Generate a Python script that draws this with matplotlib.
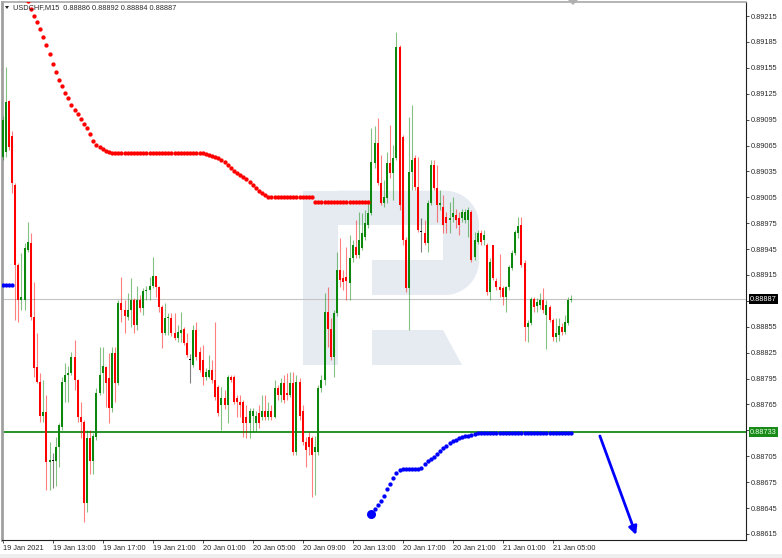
import numpy as np
import matplotlib
matplotlib.use("Agg")
import matplotlib.pyplot as plt
import matplotlib.transforms as mtransforms
from matplotlib.patches import Polygon, Rectangle

# ------------------------ DATA (prices in points, 1 point = 0.00001) ------------------------

open_pts = [
    89052, 89058, 89116, 89076, 89019, 88926, 88886, 88886, 88944, 88952,
    88866, 88808, 88791, 88752, 88756, 88698, 88699, 88699, 88716, 88739,
    88791, 88799, 88801, 88820, 88793, 88750, 88745, 88651, 88726, 88699,
    88727, 88778, 88801, 88808, 88796, 88761, 88825, 88790, 88883, 88874,
    88866, 88874, 88886, 88857, 88886, 88877, 88896, 88898, 88902, 88914,
    88901, 88878, 88848, 88865, 88865, 88848, 88842, 88848, 88852, 88836,
    88816, 88811, 88851, 88826, 88816, 88797, 88797, 88805, 88793, 88785,
    88764, 88772, 88764, 88797, 88797, 88772, 88768, 88768, 88750, 88743,
    88752, 88743, 88755, 88750, 88758, 88750, 88758, 88750, 88784, 88776,
    88790, 88778, 88776, 88790, 88710, 88791, 88758, 88721, 88727, 88726,
    88710, 88710, 88784, 88793, 88872, 88853, 88820, 88871, 88921, 88911,
    88913, 88906, 88935, 88947, 88938, 88946, 88959, 88973, 88987, 89045,
    89068, 89022, 88998, 89004, 89045, 89033, 89050, 89179, 89075, 88955,
    88900, 89034, 89050, 89017, 88965, 88964, 88952, 88998, 89042, 89016,
    88996, 88994, 88982, 88979, 88982, 88984, 88981, 88981, 88979, 88979,
    88988, 88936, 88953, 88964, 88955, 88950, 88895, 88950, 88908, 88901,
    88900, 88889, 88901, 88923, 88940, 88964, 88973, 88929, 88855, 88859,
    88887, 88879, 88880, 88886, 88869, 88878, 88863, 88843, 88845, 88855,
    88849, 88859, 88886,
]
high_pts = [
    89099, 89156, 89118, 89082, 89022, 88929, 88941, 88952, 88976, 88964,
    88907, 88848, 88802, 88793, 88776, 88721, 88709, 88727, 88743, 88797,
    88813, 88810, 88826, 88840, 88795, 88768, 88747, 88735, 88735, 88732,
    88784, 88832, 88832, 88810, 88825, 88832, 88832, 88886, 88913, 88886,
    88894, 88911, 88888, 88902, 88892, 88900, 88902, 88913, 88936, 88914,
    88902, 88880, 88883, 88871, 88871, 88871, 88857, 88872, 88855, 88848,
    88824, 88857, 88861, 88832, 88834, 88807, 88822, 88816, 88861, 88787,
    88785, 88782, 88799, 88799, 88799, 88776, 88776, 88770, 88764, 88761,
    88761, 88758, 88764, 88776, 88776, 88768, 88764, 88793, 88787, 88796,
    88799, 88801, 88803, 88803, 88799, 88796, 88764, 88727, 88733, 88729,
    88729, 88787, 88799, 88894, 88901, 88865, 88874, 88942, 88958, 88921,
    88947, 88961, 88955, 88979, 88988, 88987, 88990, 88998, 89085, 89088,
    89097, 89054, 89025, 89057, 89089, 89066, 89196, 89181, 89077, 88959,
    89098, 89112, 89054, 89052, 88981, 88979, 89002, 89048, 89048, 89042,
    89013, 89008, 88988, 89000, 89005, 88992, 88988, 88992, 88992, 88994,
    88990, 88965, 88967, 88967, 88967, 88952, 88935, 88950, 88911, 88939,
    88902, 88902, 88926, 88944, 88967, 88982, 88982, 88932, 88863, 88889,
    88889, 88888, 88894, 88900, 88886, 88880, 88865, 88865, 88865, 88859,
    88869, 88889, 88892,
]
low_pts = [
    89048, 89052, 89060, 89010, 88863, 88861, 88874, 88874, 88942, 88863,
    88797, 88790, 88745, 88745, 88666, 88666, 88668, 88671, 88692, 88735,
    88768, 88768, 88799, 88782, 88745, 88726, 88629, 88640, 88684, 88684,
    88724, 88776, 88778, 88762, 88743, 88756, 88768, 88787, 88860, 88848,
    88863, 88855, 88848, 88851, 88872, 88869, 88886, 88886, 88900, 88889,
    88872, 88831, 88845, 88845, 88844, 88840, 88837, 88837, 88834, 88820,
    88790, 88808, 88816, 88803, 88787, 88793, 88796, 88790, 88770, 88752,
    88735, 88760, 88743, 88791, 88766, 88750, 88750, 88727, 88726, 88726,
    88733, 88733, 88738, 88747, 88747, 88747, 88747, 88749, 88770, 88768,
    88767, 88770, 88774, 88706, 88706, 88747, 88718, 88692, 88706, 88658,
    88660, 88706, 88779, 88787, 88832, 88816, 88797, 88867, 88901, 88898,
    88886, 88886, 88930, 88935, 88935, 88944, 88955, 88970, 88984, 89039,
    89019, 88996, 88994, 88998, 89027, 89002, 89048, 88990, 88950, 88895,
    88851, 89013, 89013, 88965, 88942, 88950, 88942, 88996, 89013, 88976,
    88990, 88964, 88964, 88964, 88976, 88969, 88961, 88976, 88975, 88959,
    88930, 88932, 88951, 88950, 88950, 88892, 88886, 88909, 88898, 88889,
    88880, 88872, 88898, 88921, 88938, 88958, 88924, 88839, 88837, 88857,
    88872, 88872, 88876, 88871, 88829, 88861, 88838, 88837, 88838, 88845,
    88847, 88857, 88884,
]
close_pts = [
    89094, 89115, 89063, 89022, 88926, 88886, 88889, 88946, 88953, 88866,
    88807, 88791, 88752, 88756, 88698, 88701, 88699, 88716, 88741, 88791,
    88799, 88801, 88820, 88793, 88750, 88745, 88651, 88726, 88699, 88729,
    88778, 88799, 88810, 88790, 88761, 88825, 88790, 88883, 88874, 88867,
    88874, 88886, 88857, 88886, 88877, 88896, 88898, 88902, 88914, 88901,
    88878, 88848, 88865, 88866, 88848, 88842, 88849, 88851, 88836, 88822,
    88816, 88851, 88820, 88805, 88797, 88803, 88805, 88793, 88774, 88755,
    88772, 88764, 88797, 88793, 88768, 88768, 88764, 88743, 88743, 88758,
    88758, 88752, 88743, 88758, 88750, 88758, 88750, 88784, 88776, 88790,
    88770, 88776, 88790, 88710, 88791, 88752, 88721, 88712, 88716, 88706,
    88716, 88784, 88793, 88872, 88853, 88820, 88871, 88921, 88909, 88907,
    88908, 88935, 88950, 88938, 88955, 88964, 88975, 88987, 89046, 89068,
    89022, 88998, 89005, 89045, 89033, 89050, 89179, 88996, 88955, 88900,
    89034, 89048, 89017, 88967, 88965, 88952, 88998, 89042, 89016, 88996,
    88998, 88973, 88975, 88981, 88987, 88979, 88973, 88988, 88988, 88990,
    88932, 88955, 88964, 88953, 88961, 88895, 88930, 88911, 88901, 88898,
    88889, 88901, 88924, 88940, 88965, 88972, 88926, 88855, 88859, 88887,
    88878, 88884, 88886, 88874, 88880, 88863, 88843, 88848, 88856, 88849,
    88860, 88886, 88887,
]

# red dotted indicator, starts at candle 8
red_start = 8
red_pts = [
    89232, 89223, 89215, 89208, 89200, 89191, 89181, 89171, 89160, 89150,
    89141, 89134, 89126, 89120, 89112, 89106, 89101, 89096, 89090, 89085,
    89078, 89070, 89066, 89063, 89061, 89059, 89058, 89056, 89056, 89056,
    89056, 89056, 89056, 89056, 89056, 89056, 89056, 89056, 89056, 89056,
    89056, 89056, 89056, 89056, 89056, 89056, 89056, 89056, 89056, 89056,
    89056, 89056, 89056, 89056, 89056, 89056, 89056, 89055, 89054, 89053,
    89052, 89050, 89048, 89046, 89042, 89039, 89035, 89033, 89031, 89028,
    89026, 89023, 89019, 89016, 89012, 89010, 89008, 89005, 89005, 89005,
    89005, 89005, 89005, 89005, 89005, 89005, 89005, 89005, 89005, 89005,
    89005, 89005, 88999, 88999, 88999, 88999, 88999, 88999, 88999, 88999,
    88999, 88999, 88999, 88999, 88999, 88999, 88999, 88999, 88999, 88999,
]

# blue dotted indicator: short piece at the left, main piece from candle 118
blue_left_pts = [88903, 88903, 88903, 88903]
blue_start = 118
blue_pts = [
    88638, 88644, 88649, 88653, 88659, 88667, 88673, 88680, 88686, 88689,
    88690, 88690, 88690, 88690, 88690, 88690, 88691, 88696, 88699, 88702,
    88704, 88708, 88711, 88715, 88717, 88720, 88723, 88724, 88726, 88727,
    88728, 88729, 88730, 88731, 88732, 88732, 88732, 88732, 88732, 88732,
    88732, 88732, 88732, 88732, 88732, 88732, 88732, 88732, 88732, 88732,
    88732, 88732, 88732, 88732, 88732, 88732, 88732, 88732, 88732, 88732,
    88732, 88732, 88732, 88732, 88732,
]

current_price = 0.88887
level_price = 0.88733
ohlc_header = "USDCHF,M15  0.88886 0.88892 0.88884 0.88887"

# forecast arrow (candle index, price)
arrow_start = (191.1, 0.887285)
arrow_end = (202.7, 0.886138)

time_ticks = [0, 16, 32, 48, 64, 80, 96, 112, 128, 144, 160, 176]
time_labels = ["19 Jan 2021", "19 Jan 13:00", "19 Jan 17:00", "19 Jan 21:00",
               "20 Jan 01:00", "20 Jan 05:00", "20 Jan 09:00", "20 Jan 13:00",
               "20 Jan 17:00", "20 Jan 21:00", "21 Jan 01:00", "21 Jan 05:00"]

price_ticks = [0.89215, 0.89185, 0.89155, 0.89125, 0.89095, 0.89065, 0.89035,
               0.89005, 0.88975, 0.88945, 0.88915, 0.88885, 0.88855, 0.88825,
               0.88795, 0.88765, 0.88735, 0.88705, 0.88675, 0.88645, 0.88615]
hidden_ticks = [0.88885, 0.88735]  # covered by the price boxes

# ------------------------ STYLE ------------------------

W, H = 782, 558
BULL = "#0b870b"
BEAR = "#ff0000"
TEXT = "#2a2a2a"
LOGO = "#e6ebf2"

plt.rcParams["font.family"] = ["Liberation Sans", "DejaVu Sans"]


def px(x, y):
    """pixel position (from top-left) -> figure fraction"""
    return (x / W, 1 - y / H)


def logo_patches():
    """light 'R' watermark in the middle of the chart"""
    polys = []
    polys.append([(302.7, 190.7), (338, 190.7), (338, 365), (302.7, 365)])
    r = 34
    top_arc = [(445 + r * np.sin(t), 224.7 - r * np.cos(t)) for t in np.linspace(0, np.pi / 2, 12)]
    bot_arc = [(445 + r * np.cos(t), 261 + r * np.sin(t)) for t in np.linspace(0, np.pi / 2, 12)]
    bowl = [(338, 190.7)] + top_arc + bot_arc + [(372, 295), (372, 260), (443, 260), (443, 225), (338, 225)]
    polys.append(bowl)
    polys.append([(372, 330), (443, 330), (462, 365), (372, 365)])
    return [[px(x, y) for x, y in p] for p in polys]


# ------------------------ PLOT ------------------------

def main():
    o = np.array(open_pts) / 1e5
    h = np.array(high_pts) / 1e5
    l = np.array(low_pts) / 1e5
    c = np.array(close_pts) / 1e5
    idx = np.arange(len(c))

    fig = plt.figure(figsize=(W / 100, H / 100), dpi=100)
    fig.patch.set_facecolor("white")
    ax = fig.add_axes([1.8 / W, (H - 540) / H, 744.2 / W, 538.3 / H])
    ax.set_facecolor("none")

    for poly in logo_patches():
        ax.add_patch(Polygon(poly, closed=True, transform=fig.transFigure,
                             fc=LOGO, ec="none", zorder=0, clip_on=False))

    ax.axhline(current_price, color="#c4c4c4", lw=0.8, zorder=1)
    ax.axhline(level_price, color="#178a17", lw=1.3, zorder=2)

    colors = np.where(c > o, BULL, np.where(c < o, BEAR, "#000000"))
    ax.vlines(idx, l, h, colors=colors, linewidth=0.8, alpha=0.5, zorder=3)
    body_lo = np.minimum(o, c)
    body_h = np.maximum(np.abs(c - o), 0.000013)
    ax.bar(idx, body_h, bottom=body_lo, width=0.62, color=colors, linewidth=0, zorder=4)

    red_x = np.arange(red_start, red_start + len(red_pts))
    ax.plot(red_x, np.array(red_pts) / 1e5, "o", ms=3.1, color="#ff0000", mew=0, zorder=6)

    ax.plot(np.arange(len(blue_left_pts)), np.array(blue_left_pts) / 1e5, "o",
            ms=3.1, color="#0000ff", mew=0, zorder=6)
    blue_x = np.arange(blue_start, blue_start + len(blue_pts))
    ax.plot(blue_x, np.array(blue_pts) / 1e5, "o", ms=3.1, color="#0000ff", mew=0, zorder=6)
    ax.plot(blue_x[:1], np.array(blue_pts[:1]) / 1e5, "o", ms=6.5, color="#0000ff", mew=0, zorder=6)

    ax.annotate("", xy=arrow_end, xytext=arrow_start,
                arrowprops=dict(arrowstyle="-|>", color="#0000ff", lw=2,
                                mutation_scale=12, shrinkA=0, shrinkB=0), zorder=7)

    # axes limits: candle i sits at 2.7 + 3.125*i px
    ax.set_xlim(-0.29, 237.86)
    ax.set_ylim(0.886080, 0.892316)

    # time axis
    ax.set_xticks(time_ticks)
    ax.set_xticklabels(time_labels)
    for lab in ax.get_xticklabels():
        lab.set_horizontalalignment("left")
    ax.tick_params(axis="x", length=2.2, width=0.6, pad=1.2, labelsize=5.3,
                   colors=TEXT, direction="out")

    # price axis
    ax.yaxis.tick_right()
    ax.set_yticks(price_ticks)
    ax.set_yticklabels(["" if p in hidden_ticks else f"{p:.5f}" for p in price_ticks])
    ax.tick_params(axis="y", length=2.2, width=0.6, pad=1.0, labelsize=5.3,
                   colors=TEXT, direction="out")

    trans = mtransforms.blended_transform_factory(ax.transAxes, ax.transData)
    ax.text(1.0055, current_price, f"{current_price:.5f}", transform=trans, fontsize=5.3,
            color="white", va="center", ha="left", zorder=8,
            bbox=dict(boxstyle="square,pad=0.18", fc="black", ec="none"))
    ax.text(1.0055, level_price, f"{level_price:.5f}", transform=trans, fontsize=5.3,
            color="#e8ffe8", va="center", ha="left", zorder=8,
            bbox=dict(boxstyle="square,pad=0.18", fc="#178a17", ec="none"))

    # frame
    ax.spines["left"].set_color("#a0a0a0")
    ax.spines["left"].set_linewidth(2)
    ax.spines["top"].set_color("#a8a8a8")
    ax.spines["top"].set_linewidth(1.2)
    ax.spines["right"].set_color("#202020")
    ax.spines["right"].set_linewidth(0.8)
    ax.spines["bottom"].set_color("#202020")
    ax.spines["bottom"].set_linewidth(0.8)

    # header: symbol, timeframe and last OHLC
    fig.patches.append(Polygon([px(5, 6), px(9, 6), px(7, 9)], closed=True,
                               transform=fig.transFigure, fc="#202020", ec="none", zorder=1))
    fig.text(*px(13.5, 7.8), ohlc_header, fontsize=5.3, color=TEXT, va="center", ha="left", zorder=1)

    # chart shift marker at the top
    fig.patches.append(Polygon([px(568, 0), px(578, 0), px(573, 5)], closed=True,
                               transform=fig.transFigure, fc="#b0b0b0", ec="none"))

    # light grey strip under the chart
    fig.patches.append(Rectangle((0, 0), 1, 4 / H, transform=fig.transFigure,
                                 fc="#ededed", ec="none"))

    fig.savefig("out.png", dpi=100)
    plt.close(fig)


if __name__ == "__main__":
    main()
